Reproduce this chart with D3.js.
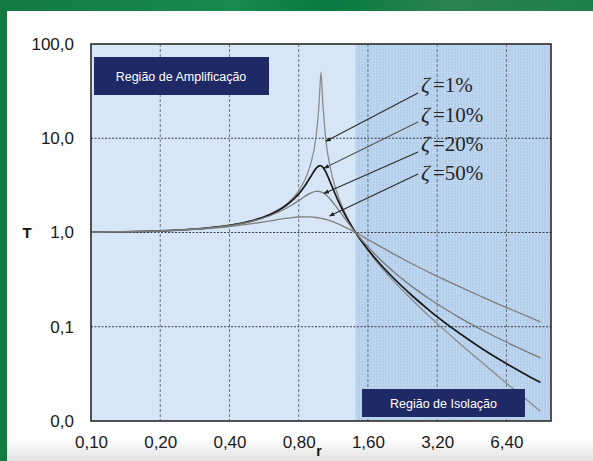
<!DOCTYPE html>
<html>
<head>
<meta charset="utf-8">
<script src="https://cdn.jsdelivr.net/npm/d3@7"></script>
<style>
  body { margin: 0; background: #fff; }
  svg { display: block; }
</style>
</head>
<body>
<div id="vis"></div>
<script>
// frequency ratio r and transmissibility T
var rValues = [0.1, 0.2, 0.3, 0.4, 0.5, 0.6, 0.7, 0.75, 0.8, 0.85, 0.9, 0.95, 0.98, 0.99, 1.0,
	1.02, 1.05, 1.1, 1.15, 1.2, 1.3, 1.414, 1.6, 1.8, 2, 2.5, 3, 4, 5, 6, 7, 8, 9];

var t1 = [1.010, 1.042, 1.099, 1.190, 1.333, 1.562, 1.960, 2.285, 2.775, 3.597, 5.241, 10.07, 22.64, 35.63, 50.01,
	22.10, 9.560, 4.737, 3.094, 2.270, 1.449, 1.000, 0.641, 0.447, 0.334, 0.191, 0.125, 0.0669, 0.0419, 0.0288, 0.0210, 0.0161, 0.0127];
var t10 = [1.010, 1.042, 1.099, 1.189, 1.328, 1.547, 1.909, 2.186, 2.571, 3.117, 3.882, 4.766, 5.096, 5.123, 5.099,
	4.908, 4.373, 3.367, 2.591, 2.052, 1.401, 1.000, 0.659, 0.469, 0.356, 0.212, 0.145, 0.0853, 0.0589, 0.0446, 0.0358, 0.0299, 0.0257];
var t20 = [1.010, 1.041, 1.097, 1.184, 1.314, 1.505, 1.785, 1.968, 2.180, 2.407, 2.611, 2.727, 2.726, 2.713, 2.693,
	2.634, 2.509, 2.241, 1.959, 1.704, 1.305, 1.000, 0.704, 0.524, 0.413, 0.265, 0.193, 0.125, 0.0929, 0.0741, 0.0618, 0.0532, 0.0467];
var t50 = [1.010, 1.040, 1.090, 1.158, 1.240, 1.329, 1.409, 1.440, 1.460, 1.468, 1.463, 1.444, 1.428, 1.421, 1.414,
	1.399, 1.374, 1.328, 1.276, 1.222, 1.114, 1.000, 0.844, 0.717, 0.620, 0.463, 0.370, 0.266, 0.208, 0.171, 0.146, 0.127, 0.112];

var seriesNames = ["\u03B6 =1%", "\u03B6 =10%", "\u03B6 =20%", "\u03B6 =50%"];
var seriesValues = [t1, t10, t20, t50];

// arrow tips on the curves (r, T)
var arrowR = [1.05, 1.03, 1.03, 1.09];
var arrowT = [9.3, 4.8, 2.6, 1.5];

var xTicks = [0.1, 0.2, 0.4, 0.8, 1.6, 3.2, 6.4];
var xTickLabels = ["0,10", "0,20", "0,40", "0,80", "1,60", "3,20", "6,40"];
var yTicks = [0.01, 0.1, 1, 10, 100];
var yTickLabels = ["0,0", "0,1", "1,0", "10,0", "100,0"];

var W = 593, H = 461;
var margin = { top: 44, left: 91, bottom: 40, right: 42 };

var svg = d3.select('#vis').append('svg')
	.attr('width', W)
	.attr('height', H);

var defs = svg.append('defs');
var grad = defs.append('linearGradient').attr('id', 'bottomFade')
	.attr('x1', 0).attr('y1', 0).attr('x2', 0).attr('y2', 1);
grad.append('stop').attr('offset', '0%').attr('stop-color', '#ffffff');
grad.append('stop').attr('offset', '100%').attr('stop-color', '#e2e2e2');

var greenGrad = defs.append('linearGradient').attr('id', 'greenBand')
	.attr('x1', 0).attr('y1', 0).attr('x2', 1).attr('y2', 0);
greenGrad.append('stop').attr('offset', '0%').attr('stop-color', '#137a42');
greenGrad.append('stop').attr('offset', '40%').attr('stop-color', '#1a8a4e');
greenGrad.append('stop').attr('offset', '55%').attr('stop-color', '#067a40');
greenGrad.append('stop').attr('offset', '75%').attr('stop-color', '#2a8250');
greenGrad.append('stop').attr('offset', '100%').attr('stop-color', '#1e8048');

var pat = defs.append('pattern').attr('id', 'isoPattern')
	.attr('patternUnits', 'userSpaceOnUse')
	.attr('width', 3).attr('height', 3);
pat.append('rect').attr('width', 3).attr('height', 3).attr('fill', '#b2cdea');
pat.append('rect').attr('width', 1).attr('height', 3).attr('fill', '#c2d8ef');
pat.append('rect').attr('width', 3).attr('height', 1).attr('fill', '#bcd4ed');

defs.append('marker').attr('id', 'arrowHead')
	.attr('viewBox', '0 0 10 10')
	.attr('refX', 9).attr('refY', 5)
	.attr('markerWidth', 5).attr('markerHeight', 5)
	.attr('orient', 'auto')
	.append('path').attr('d', 'M0,1 L10,5 L0,9 Z').attr('fill', '#222');

// page frame
svg.append('rect').attr('x', 0).attr('y', 0).attr('width', W).attr('height', H).attr('fill', '#fdfdfd');
svg.append('rect').attr('x', 0).attr('y', 438).attr('width', W).attr('height', H - 438).attr('fill', 'url(#bottomFade)');
svg.append('rect').attr('x', 0).attr('y', 0).attr('width', W).attr('height', 11).attr('fill', 'url(#greenBand)');
svg.append('rect').attr('x', 0).attr('y', 0).attr('width', 7).attr('height', H).attr('fill', '#137a42');

var x = d3.scaleLog().domain([0.1, 10]).range([margin.left, W - margin.right]);
var y = d3.scaleLog().domain([0.01, 100]).range([H - margin.bottom, margin.top]);

var x0 = x.range()[0], x1 = x.range()[1];
var y0 = y.range()[1], y1 = y.range()[0];

// backgrounds
svg.append('rect').attr('x', x0).attr('y', y0).attr('width', x1 - x0).attr('height', y1 - y0).attr('fill', '#d7e6f6');
svg.append('rect').attr('x', x(Math.SQRT2)).attr('y', y0).attr('width', x1 - x(Math.SQRT2)).attr('height', y1 - y0)
	.attr('fill', 'url(#isoPattern)');

// grid
svg.append('g').selectAll('line')
	.data(xTicks.slice(1))
	.enter().append('line')
	.attr('x1', function (d) { return x(d); }).attr('x2', function (d) { return x(d); })
	.attr('y1', y0).attr('y2', y1)
	.attr('stroke', '#6a7380').attr('stroke-width', 1).attr('stroke-dasharray', '3,2');

svg.append('g').selectAll('line')
	.data(yTicks.slice(1, -1))
	.enter().append('line')
	.attr('x1', x0).attr('x2', x1)
	.attr('y1', function (d) { return y(d); }).attr('y2', function (d) { return y(d); })
	.attr('stroke', '#3a3f48').attr('stroke-width', 1.2).attr('stroke-dasharray', '2,1.5');

// curves
var line = d3.line()
	.x(function (d) { return x(d[0]); })
	.y(function (d) { return y(d[1]); })
	.curve(d3.curveMonotoneX);

var curveColors = ['#8c8c8c', '#1a1a1a', '#7a7a7a', '#7f7f7f'];
var curveWidths = [1.3, 1.7, 1.3, 1.3];

svg.append('g').selectAll('path')
	.data(seriesValues)
	.enter().append('path')
	.attr('d', function (vals) { return line(rValues.map(function (r, i) { return [r, vals[i]]; })); })
	.attr('fill', 'none')
	.attr('stroke', function (d, i) { return curveColors[i]; })
	.attr('stroke-width', function (d, i) { return curveWidths[i]; });

// region labels
svg.append('rect').attr('x', 94).attr('y', 57).attr('width', 175).attr('height', 38).attr('fill', '#1f2966');
svg.append('text').attr('x', 181).attr('y', 80.5).attr('text-anchor', 'middle')
	.attr('font-family', 'Liberation Sans, Arial, sans-serif').attr('font-size', 12.5).attr('fill', '#fff')
	.text('Região de Amplificação');

svg.append('rect').attr('x', 362).attr('y', 389).attr('width', 163).attr('height', 28).attr('fill', '#1f2966');
svg.append('text').attr('x', 443.5).attr('y', 407.5).attr('text-anchor', 'middle')
	.attr('font-family', 'Liberation Sans, Arial, sans-serif').attr('font-size', 12.5).attr('fill', '#fff')
	.text('Região de Isolação');

// frame
svg.append('rect').attr('x', x0).attr('y', y0).attr('width', x1 - x0).attr('height', y1 - y0)
	.attr('fill', 'none').attr('stroke', '#2b2b2b').attr('stroke-width', 1.6);

// damping labels and arrows
var labelX = 421;
var labelY = [92, 122, 151, 180];
var tailY = [93, 122, 152, 174];

svg.append('g').selectAll('line')
	.data(arrowR)
	.enter().append('line')
	.attr('x1', labelX - 3).attr('y1', function (d, i) { return tailY[i]; })
	.attr('x2', function (d) { return x(d); })
	.attr('y2', function (d, i) { return y(arrowT[i]); })
	.attr('stroke', function (d, i) { return i === 1 ? '#555' : '#2a2a2a'; })
	.attr('stroke-width', 1.1)
	.attr('marker-end', 'url(#arrowHead)');

var lbl = svg.append('g').selectAll('text')
	.data(seriesNames)
	.enter().append('text')
	.attr('x', labelX)
	.attr('y', function (d, i) { return labelY[i]; })
	.attr('font-family', 'Liberation Serif, Times New Roman, serif')
	.attr('font-size', 21)
	.attr('fill', '#262626');
lbl.append('tspan').attr('font-style', 'italic').attr('font-size', 22).text(function (d) { return d.split(' ')[0]; });
lbl.append('tspan').attr('dx', 3).text(function (d) { return d.split(' ')[1]; });

// axes
var xAxis = svg.append('g')
	.attr('transform', 'translate(0,' + y1 + ')')
	.call(d3.axisBottom(x).tickValues(xTicks).tickSize(0).tickPadding(15)
		.tickFormat(function (d, i) { return xTickLabels[i]; }));
xAxis.select('.domain').remove();
xAxis.selectAll('text')
	.attr('font-family', 'Liberation Sans, Arial, sans-serif').attr('font-size', 17).attr('fill', '#1a1a1a');

var yAxis = svg.append('g')
	.attr('transform', 'translate(' + x0 + ',0)')
	.call(d3.axisLeft(y).tickValues(yTicks).tickSize(0).tickPadding(17)
		.tickFormat(function (d, i) { return yTickLabels[i]; }));
yAxis.select('.domain').remove();
yAxis.selectAll('text')
	.attr('font-family', 'Liberation Sans, Arial, sans-serif').attr('font-size', 17).attr('fill', '#1a1a1a');

svg.append('text').attr('x', 27).attr('y', y(1) + 5.5).attr('text-anchor', 'middle')
	.attr('font-family', 'Liberation Sans, Arial, sans-serif').attr('font-size', 15).attr('font-weight', 'bold')
	.attr('fill', '#111').text('T');

svg.append('text').attr('x', 319).attr('y', 456).attr('text-anchor', 'middle')
	.attr('font-family', 'Liberation Sans, Arial, sans-serif').attr('font-size', 14).attr('font-weight', 'bold')
	.attr('fill', '#111').text('r');
</script>
</body>
</html>
